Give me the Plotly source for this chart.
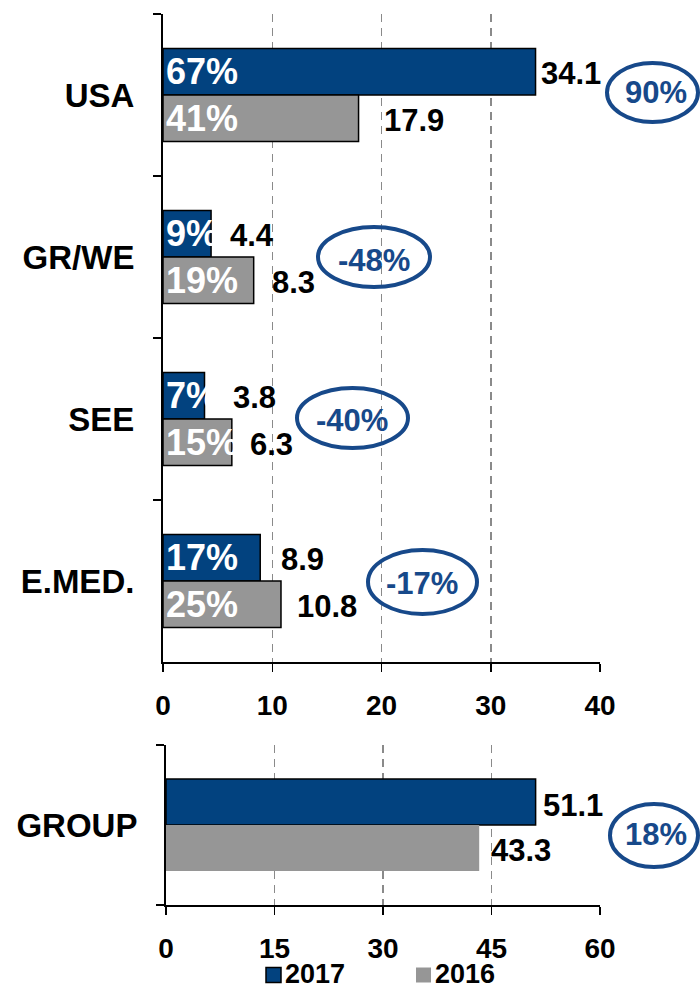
import plotly.graph_objects as go

# ---------------- data ----------------
regions = ["USA", "GR/WE", "SEE", "E.MED."]
values_2017 = [34.1, 4.4, 3.8, 8.9]
values_2016 = [17.9, 8.3, 6.3, 10.8]
share_2017 = ["67%", "9%", "7%", "17%"]
share_2016 = ["41%", "19%", "15%", "25%"]
change_regions = ["90%", "-48%", "-40%", "-17%"]

group_label = ["GROUP"]
group_2017 = [51.1]
group_2016 = [43.3]
change_group = ["18%"]

x_ticks_top = [0, 10, 20, 30, 40]
x_ticks_bottom = [0, 15, 30, 45, 60]
series_names = ["2017", "2016"]

# ---------------- style ----------------
W, H = 700, 990
BLUE = "#02427F"
GRAY = "#969696"
RING = "#17498A"
FONT = "Liberation Sans, Arial, sans-serif"
BARGAP = 0.426

# pixel offsets of value labels from bar ends
shift_2017 = [3, 17, 26, 19]
shift_2016 = [23, 16, 16, 14]
shift_group = [5, 10]

# ellipse boxes (px) and text centres (px)
ellipse_px = [(607, 698, 63, 122), (318, 430, 227, 287), (297, 408, 388, 448), (368, 477, 550, 614)]
ellipse_txt = [(656, 92), (374, 260), (352, 420), (422, 583)]
group_ellipse_px = (610, 698, 804, 867)
group_ellipse_txt = (656, 834)

# legend layout (px): swatch left edges, swatch size, row centre
legend_x = [266, 416]
legend_box = 15
legend_y = 975
legend_colors = [BLUE, GRAY]
legend_edges = [("black", 1.5), (GRAY, 0)]


def px2x(px):
    return px / W


def px2y(py):
    return 1 - py / H


bold = dict(family=FONT, weight="bold")

fig = go.Figure()

fig.add_trace(go.Bar(
    y=regions, x=values_2017, orientation="h", name=series_names[0],
    marker=dict(color=BLUE, line=dict(color="black", width=1.5)),
    text=share_2017, textposition="inside", insidetextanchor="start",
    textangle=0, constraintext="none",
    textfont=dict(size=36, color="white", **bold),
    xaxis="x", yaxis="y", showlegend=False, hoverinfo="skip"))
fig.add_trace(go.Bar(
    y=regions, x=values_2016, orientation="h", name=series_names[1],
    marker=dict(color=GRAY, line=dict(color="black", width=1.5)),
    text=share_2016, textposition="inside", insidetextanchor="start",
    textangle=0, constraintext="none",
    textfont=dict(size=36, color="white", **bold),
    xaxis="x", yaxis="y", showlegend=False, hoverinfo="skip"))
fig.add_trace(go.Bar(
    y=group_label, x=group_2017, orientation="h", name=series_names[0],
    marker=dict(color=BLUE, line=dict(color="black", width=1.5)),
    xaxis="x2", yaxis="y2", showlegend=False, hoverinfo="skip"))
fig.add_trace(go.Bar(
    y=group_label, x=group_2016, orientation="h", name=series_names[1],
    marker=dict(color=GRAY, line=dict(color=GRAY, width=0)),
    xaxis="x2", yaxis="y2", showlegend=False, hoverinfo="skip"))

off = (1 - BARGAP) / 4
annotations = []
for i, v in enumerate(values_2017):
    annotations.append(dict(x=v, y=i - off, xref="x", yref="y", text=f"<b>{v:.1f}</b>",
                            xanchor="left", yanchor="middle", xshift=shift_2017[i], yshift=-2,
                            showarrow=False, font=dict(size=31, color="black", family=FONT)))
for i, v in enumerate(values_2016):
    annotations.append(dict(x=v, y=i + off, xref="x", yref="y", text=f"<b>{v:.1f}</b>",
                            xanchor="left", yanchor="middle", xshift=shift_2016[i], yshift=-2,
                            showarrow=False, font=dict(size=31, color="black", family=FONT)))
for j, v in enumerate([group_2017[0], group_2016[0]]):
    annotations.append(dict(x=v, y=(-off if j == 0 else off), xref="x2", yref="y2",
                            text=f"<b>{v:.1f}</b>",
                            xanchor="left", yanchor="middle", xshift=shift_group[j], yshift=-3,
                            showarrow=False, font=dict(size=31, color="black", family=FONT)))

shapes = []
for (x0, x1, y0, y1), (tx, ty), lab in zip(ellipse_px + [group_ellipse_px],
                                           ellipse_txt + [group_ellipse_txt],
                                           change_regions + change_group):
    shapes.append(dict(type="circle", xref="paper", yref="paper",
                       x0=px2x(x0), x1=px2x(x1), y0=px2y(y1), y1=px2y(y0),
                       line=dict(color=RING, width=4)))
    annotations.append(dict(x=px2x(tx), y=px2y(ty), xref="paper", yref="paper",
                            text=f"<b>{lab}</b>",
                            xanchor="center", yanchor="middle", showarrow=False,
                            font=dict(size=31, color=RING, family=FONT)))

# legend (swatch + label per series)
for name, lx, col, (ecol, ew) in zip(series_names, legend_x, legend_colors, legend_edges):
    shapes.append(dict(type="rect", xref="paper", yref="paper",
                       x0=px2x(lx), x1=px2x(lx + legend_box),
                       y0=px2y(legend_y + legend_box / 2), y1=px2y(legend_y - legend_box / 2),
                       fillcolor=col, line=dict(color=ecol, width=ew)))
    annotations.append(dict(x=px2x(lx + legend_box + 3), y=px2y(legend_y - 1), xref="paper", yref="paper",
                            text=f"<b>{name}</b>", xanchor="left", yanchor="middle",
                            showarrow=False, borderpad=0,
                            font=dict(size=27, color="black", family=FONT)))

xaxis_common = dict(
    showline=True, linecolor="black", linewidth=2,
    ticks="outside", ticklen=8, tickwidth=1.5, tickcolor="black",
    showgrid=True, gridcolor="#8a8a8a", gridwidth=1.5, griddash="8px,6px",
    zeroline=False, tickfont=dict(size=28, color="black", **bold),
    ticklabelstandoff=9, fixedrange=True, automargin=False,
)
yaxis_common = dict(
    type="category", showline=True, linecolor="black", linewidth=2,
    ticks="outside", ticklen=8, tickwidth=1.5, tickcolor="black", tickson="boundaries",
    showgrid=False, zeroline=False, tickfont=dict(size=33, color="black", **bold),
    ticklabelstandoff=20, fixedrange=True, automargin=False,
)

fig.update_layout(
    width=W, height=H, autosize=False, margin=dict(l=0, r=0, t=0, b=0, pad=0),
    paper_bgcolor="white", plot_bgcolor="white",
    barmode="group", bargap=BARGAP, bargroupgap=0, showlegend=False,
    xaxis=dict(domain=[163 / W, 600 / W], range=[0, 40], tickvals=x_ticks_top,
               anchor="y", **xaxis_common),
    yaxis=dict(domain=[px2y(662), px2y(14)], range=[3.5, -0.5], anchor="x", **yaxis_common),
    xaxis2=dict(domain=[166 / W, 600 / W], range=[0, 60], tickvals=x_ticks_bottom,
                anchor="y2", **xaxis_common),
    yaxis2=dict(domain=[px2y(905), px2y(745)], range=[0.5, -0.5], anchor="x2", **yaxis_common),
    shapes=shapes, annotations=annotations,
    font=dict(family=FONT),
)

fig.write_html(
    "out.html",
    config={"responsive": False, "displayModeBar": False, "staticPlot": True},
    post_script="document.documentElement.style.margin='0';document.body.style.margin='0';"
                "document.body.style.overflow='hidden';",
)
